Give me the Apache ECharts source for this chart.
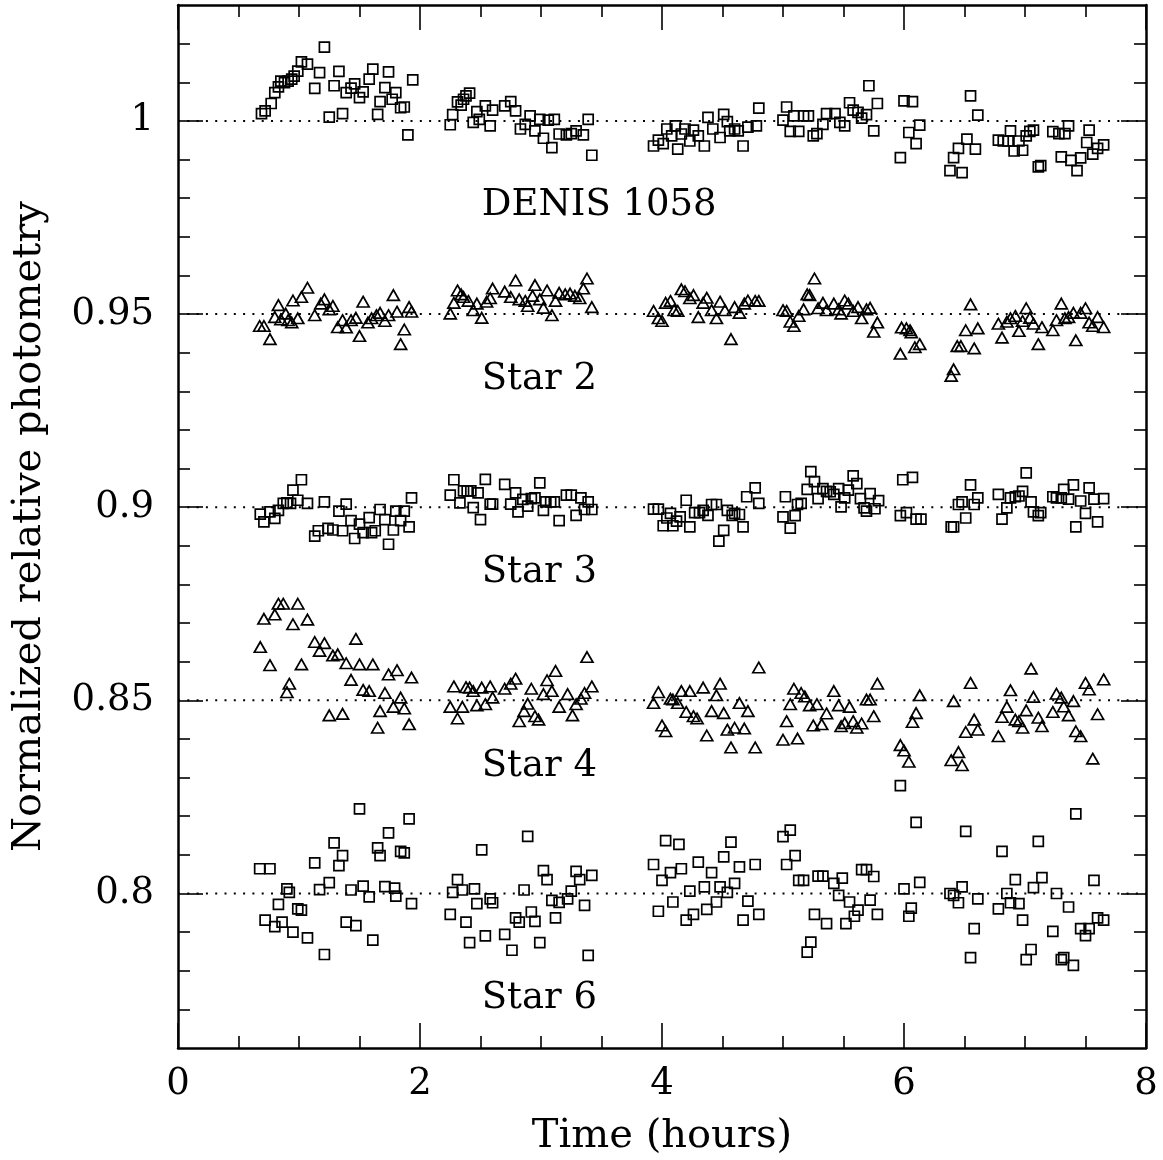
<!DOCTYPE html>
<html>
<head>
<meta charset="utf-8">
<script src="https://cdn.jsdelivr.net/npm/echarts@6/dist/echarts.min.js"></script>
<style>html,body{margin:0;padding:0;background:#fff;}#c{width:1163px;height:1160px;}</style>
</head>
<body>
<div id="c"></div>
<script>
// ---- data: [time (hours), normalized relative photometry] ----
const denis = [
[0.69,1.0019],[0.72,1.0026],[0.77,1.0045],[0.80,1.0073],[0.83,1.0088],[0.85,1.0103],[0.88,1.0099],[0.91,1.0103],[0.94,1.0108],[0.96,1.0116],[0.99,1.0129],[1.02,1.0153],[1.07,1.0147],[1.21,1.0191],[1.17,1.0125],[1.13,1.0084],[1.25,1.0010],[1.36,1.0019],[1.33,1.0128],[1.29,1.0091],[1.39,1.0073],[1.43,1.0085],[1.46,1.0096],[1.50,1.0060],[1.53,1.0075],[1.58,1.0108],[1.61,1.0134],[1.65,1.0017],[1.67,1.0050],[1.71,1.0086],[1.74,1.0127],[1.77,1.0056],[1.80,1.0073],[1.84,1.0034],[1.87,1.0036],[1.90,0.9964],[1.94,1.0106],
[2.25,0.9990],[2.27,1.0016],[2.31,1.0049],[2.34,1.0041],[2.36,1.0056],[2.38,1.0065],[2.41,1.0072],[2.44,0.9996],[2.47,1.0024],[2.49,1.0004],[2.54,1.0039],[2.58,0.9987],[2.60,1.0028],[2.70,1.0039],[2.75,1.0050],[2.79,1.0026],[2.83,0.9979],[2.87,0.9991],[2.91,1.0013],[2.95,0.9974],[2.99,1.0004],[3.02,0.9955],[3.06,1.0002],[3.09,0.9931],[3.11,1.0004],[3.15,0.9966],[3.21,0.9964],[3.25,0.9967],[3.29,0.9974],[3.35,0.9964],[3.39,1.0004],[3.42,0.9911],
[3.93,0.9935],[3.97,0.9950],[4.01,0.9941],[4.04,0.9979],[4.08,0.9961],[4.11,0.9987],[4.13,0.9927],[4.16,0.9966],[4.19,0.9979],[4.23,0.9948],[4.26,0.9976],[4.30,0.9961],[4.35,0.9935],[4.38,1.0009],[4.42,0.9979],[4.48,0.9957],[4.51,1.0017],[4.54,0.9998],[4.56,0.9974],[4.60,0.9979],[4.63,0.9974],[4.67,0.9935],[4.71,0.9984],[4.78,0.9987],[4.80,1.0033],
[5.00,1.0002],[5.03,1.0036],[5.06,0.9973],[5.09,1.0013],[5.13,0.9973],[5.17,1.0013],[5.21,1.0013],[5.25,0.9961],[5.28,0.9967],[5.33,0.9991],[5.36,1.0019],[5.43,1.0019],[5.47,0.9996],[5.51,0.9987],[5.55,1.0047],[5.58,1.0028],[5.62,1.0022],[5.65,1.0007],[5.69,1.0016],[5.71,1.0091],[5.75,0.9974],[5.78,1.0045],
[5.97,0.9905],[6.00,1.0052],[6.04,0.9970],[6.07,1.0050],[6.10,0.9941],[6.13,0.9989],
[6.38,0.9871],[6.41,0.9905],[6.45,0.9929],[6.48,0.9866],[6.52,0.9953],[6.55,1.0065],[6.59,0.9927],[6.61,1.0015],
[6.78,0.9950],[6.82,0.9948],[6.86,0.9948],[6.88,0.9974],[6.91,0.9922],[6.95,0.9948],[6.98,0.9924],[7.01,0.9961],[7.04,0.9973],[7.07,0.9976],[7.11,0.9881],[7.13,0.9884],[7.23,0.9972],[7.28,0.9967],[7.30,0.9907],[7.33,0.9967],[7.36,0.9987],[7.38,0.9898],[7.43,0.9871],[7.46,0.9904],[7.51,0.9944],[7.53,0.9976],[7.56,0.9914],[7.60,0.9929],[7.65,0.9938]
];
const star2 = [
[0.675,0.9469],[0.71,0.9469],[0.76,0.9435],[0.80,0.9492],[0.83,0.9523],[0.85,0.9486],[0.89,0.9501],[0.91,0.9484],[0.94,0.9478],[0.95,0.9535],[0.99,0.9489],[1.02,0.9544],[1.07,0.9568],[1.13,0.9497],[1.18,0.9527],[1.21,0.9538],[1.25,0.9512],[1.28,0.9521],[1.32,0.9466],[1.36,0.9484],[1.39,0.9465],[1.43,0.9484],[1.47,0.9490],[1.50,0.9443],[1.53,0.9532],[1.57,0.9478],[1.60,0.9489],[1.64,0.9497],[1.67,0.9503],[1.71,0.9482],[1.74,0.9497],[1.78,0.9549],[1.81,0.9506],[1.84,0.9422],[1.87,0.9460],[1.91,0.9518],[1.93,0.9506],
[2.25,0.9501],[2.28,0.9529],[2.31,0.9561],[2.34,0.9551],[2.36,0.9544],[2.40,0.9534],[2.44,0.9510],[2.47,0.9527],[2.51,0.9490],[2.55,0.9532],[2.58,0.9541],[2.60,0.9566],[2.70,0.9558],[2.75,0.9544],[2.79,0.9587],[2.82,0.9538],[2.87,0.9534],[2.89,0.9521],[2.93,0.9547],[2.95,0.9575],[2.99,0.9538],[3.02,0.9516],[3.05,0.9561],[3.09,0.9497],[3.12,0.9534],[3.15,0.9555],[3.20,0.9551],[3.24,0.9553],[3.28,0.9547],[3.32,0.9541],[3.35,0.9566],[3.38,0.9592],[3.42,0.9518],
[3.93,0.9508],[3.97,0.9489],[4.00,0.9482],[4.03,0.9529],[4.07,0.9534],[4.10,0.9510],[4.13,0.9508],[4.16,0.9564],[4.19,0.9559],[4.23,0.9541],[4.26,0.9549],[4.30,0.9492],[4.34,0.9529],[4.37,0.9542],[4.41,0.9510],[4.45,0.9489],[4.48,0.9532],[4.52,0.9510],[4.57,0.9435],[4.60,0.9518],[4.64,0.9503],[4.68,0.9527],[4.71,0.9535],[4.77,0.9534],[4.80,0.9534],
[5.00,0.9510],[5.03,0.9508],[5.06,0.9480],[5.09,0.9469],[5.13,0.9495],[5.17,0.9512],[5.20,0.9551],[5.22,0.9549],[5.26,0.9592],[5.29,0.9515],[5.33,0.9529],[5.36,0.9510],[5.42,0.9527],[5.46,0.9512],[5.48,0.9501],[5.51,0.9535],[5.54,0.9527],[5.58,0.9508],[5.62,0.9518],[5.65,0.9489],[5.69,0.9512],[5.72,0.9516],[5.78,0.9478],[5.75,0.9454],
[5.98,0.9465],[6.02,0.9463],[6.05,0.9458],[6.06,0.9452],[5.97,0.9397],[6.09,0.9414],[6.13,0.9422],
[6.39,0.9340],[6.41,0.9357],[6.44,0.9417],[6.47,0.9417],[6.51,0.9458],[6.55,0.9525],[6.58,0.9411],[6.61,0.9463],
[6.78,0.9475],[6.81,0.9439],[6.85,0.9480],[6.88,0.9489],[6.92,0.9495],[6.95,0.9456],[6.98,0.9482],[7.01,0.9515],[7.04,0.9490],[7.07,0.9475],[7.11,0.9422],[7.14,0.9466],[7.23,0.9458],[7.26,0.9484],[7.30,0.9527],[7.33,0.9489],[7.36,0.9492],[7.40,0.9503],[7.42,0.9432],[7.46,0.9503],[7.50,0.9515],[7.53,0.9478],[7.56,0.9469],[7.60,0.9492],[7.65,0.9466]
];
const star3 = [
[0.68,0.8982],[0.71,0.8962],[0.76,0.8988],[0.80,0.8971],[0.83,0.8992],[0.87,0.9010],[0.90,0.9011],[0.93,0.9010],[0.95,0.9044],[1.02,0.9071],[0.99,0.9018],[1.07,0.9010],[1.13,0.8925],[1.16,0.8939],[1.21,0.9014],[1.24,0.8945],[1.28,0.8941],[1.33,0.8990],[1.36,0.8939],[1.39,0.9008],[1.43,0.8965],[1.46,0.8919],[1.50,0.8956],[1.53,0.8934],[1.58,0.8973],[1.60,0.8934],[1.63,0.8939],[1.67,0.8994],[1.71,0.8968],[1.74,0.8904],[1.78,0.8941],[1.80,0.8990],[1.84,0.8965],[1.87,0.8990],[1.91,0.8949],[1.93,0.9024],
[2.25,0.9031],[2.28,0.9071],[2.33,0.9011],[2.36,0.9042],[2.39,0.9042],[2.42,0.9042],[2.44,0.8999],[2.48,0.9037],[2.50,0.8968],[2.54,0.9072],[2.58,0.9008],[2.60,0.9008],[2.70,0.9059],[2.75,0.9008],[2.79,0.9037],[2.81,0.8988],[2.85,0.9020],[2.89,0.9003],[2.92,0.9022],[2.95,0.9024],[2.99,0.9063],[3.02,0.8992],[3.04,0.9014],[3.08,0.9014],[3.11,0.9014],[3.15,0.8965],[3.21,0.9031],[3.25,0.9031],[3.29,0.8979],[3.33,0.9024],[3.36,0.8994],[3.39,0.9014],[3.42,0.8994],
[3.93,0.8995],[3.97,0.8995],[4.01,0.8952],[4.04,0.8972],[4.07,0.8984],[4.09,0.8952],[4.12,0.8964],[4.15,0.8975],[4.20,0.9018],[4.23,0.8949],[4.27,0.8986],[4.31,0.8986],[4.34,0.8992],[4.38,0.8979],[4.41,0.9007],[4.45,0.9007],[4.47,0.8912],[4.51,0.8940],[4.54,0.8992],[4.58,0.8979],[4.60,0.8984],[4.64,0.8981],[4.67,0.8949],[4.70,0.9027],[4.77,0.9050],[4.80,0.9010],
[5.00,0.8975],[5.02,0.9027],[5.06,0.8946],[5.10,0.8978],[5.12,0.9007],[5.15,0.9010],[5.20,0.9046],[5.23,0.9092],[5.26,0.9066],[5.29,0.9022],[5.33,0.9048],[5.36,0.9041],[5.39,0.9040],[5.42,0.9033],[5.46,0.9048],[5.48,0.9001],[5.51,0.9024],[5.54,0.9044],[5.58,0.9081],[5.61,0.9061],[5.64,0.9022],[5.67,0.8998],[5.69,0.8990],[5.72,0.9035],[5.76,0.8996],[5.79,0.9017],
[5.99,0.9071],[6.07,0.9077],[5.97,0.8978],[6.02,0.8986],[6.10,0.8969],[6.14,0.8969],
[6.39,0.8949],[6.41,0.8949],[6.45,0.9007],[6.48,0.9014],[6.51,0.8972],[6.55,0.9058],[6.58,0.9007],[6.61,0.9024],
[6.78,0.9033],[6.81,0.8969],[6.85,0.8998],[6.88,0.9024],[6.92,0.9027],[6.95,0.9029],[6.98,0.9041],[7.01,0.9089],[7.05,0.9014],[7.07,0.8988],[7.11,0.8978],[7.13,0.8986],[7.23,0.9027],[7.26,0.9024],[7.30,0.9024],[7.32,0.9046],[7.36,0.9021],[7.40,0.9058],[7.42,0.8949],[7.46,0.9016],[7.50,0.8984],[7.53,0.9050],[7.57,0.9021],[7.60,0.8962],[7.65,0.9022]
];
const star4 = [
[0.68,0.8638],[0.71,0.8711],[0.76,0.8591],[0.80,0.8722],[0.83,0.8750],[0.87,0.8750],[0.90,0.8521],[0.92,0.8543],[0.95,0.8697],[0.99,0.8750],[1.02,0.8593],[1.07,0.8709],[1.13,0.8651],[1.17,0.8628],[1.21,0.8648],[1.25,0.8461],[1.28,0.8616],[1.32,0.8619],[1.36,0.8465],[1.39,0.8596],[1.43,0.8553],[1.47,0.8659],[1.50,0.8593],[1.53,0.8527],[1.58,0.8524],[1.61,0.8593],[1.65,0.8429],[1.67,0.8472],[1.71,0.8519],[1.74,0.8567],[1.78,0.8483],[1.81,0.8578],[1.84,0.8507],[1.87,0.8479],[1.91,0.8438],[1.93,0.8559],
[2.25,0.8483],[2.28,0.8536],[2.31,0.8453],[2.35,0.8483],[2.38,0.8534],[2.41,0.8533],[2.44,0.8524],[2.47,0.8487],[2.51,0.8533],[2.54,0.8490],[2.58,0.8536],[2.60,0.8507],[2.70,0.8530],[2.75,0.8543],[2.79,0.8556],[2.82,0.8446],[2.86,0.8472],[2.89,0.8491],[2.92,0.8530],[2.95,0.8459],[2.98,0.8450],[3.02,0.8516],[3.05,0.8552],[3.09,0.8524],[3.12,0.8576],[3.15,0.8483],[3.22,0.8516],[3.26,0.8461],[3.29,0.8490],[3.33,0.8504],[3.36,0.8519],[3.38,0.8612],[3.42,0.8536],
[3.93,0.8493],[3.97,0.8521],[4.00,0.8435],[4.03,0.8420],[4.07,0.8504],[4.09,0.8502],[4.13,0.8493],[4.16,0.8524],[4.20,0.8470],[4.23,0.8524],[4.26,0.8459],[4.29,0.8453],[4.34,0.8533],[4.37,0.8409],[4.41,0.8472],[4.45,0.8513],[4.48,0.8543],[4.51,0.8467],[4.54,0.8424],[4.57,0.8378],[4.60,0.8429],[4.64,0.8493],[4.68,0.8427],[4.71,0.8472],[4.77,0.8378],[4.80,0.8585],
[5.00,0.8398],[5.03,0.8446],[5.06,0.8490],[5.09,0.8530],[5.12,0.8401],[5.15,0.8519],[5.18,0.8510],[5.22,0.8487],[5.25,0.8435],[5.28,0.8490],[5.32,0.8438],[5.36,0.8466],[5.42,0.8524],[5.46,0.8487],[5.48,0.8433],[5.51,0.8441],[5.55,0.8483],[5.58,0.8446],[5.61,0.8429],[5.65,0.8440],[5.69,0.8502],[5.72,0.8502],[5.75,0.8459],[5.78,0.8543],
[5.97,0.8384],[6.00,0.8370],[6.04,0.8341],[6.07,0.8444],[6.10,0.8467],[6.13,0.8513],
[6.39,0.8345],[6.41,0.8498],[6.45,0.8366],[6.48,0.8332],[6.51,0.8418],[6.55,0.8545],[6.58,0.8450],[6.61,0.8424],
[6.78,0.8407],[6.81,0.8457],[6.85,0.8483],[6.88,0.8526],[6.92,0.8450],[6.95,0.8446],[6.98,0.8429],[7.01,0.8474],[7.05,0.8582],[7.07,0.8509],[7.11,0.8455],[7.14,0.8433],[7.23,0.8470],[7.26,0.8517],[7.30,0.8507],[7.32,0.8484],[7.36,0.8461],[7.40,0.8498],[7.42,0.8420],[7.46,0.8407],[7.50,0.8545],[7.53,0.8528],[7.56,0.8349],[7.60,0.8464],[7.65,0.8554]
];
const star6 = [
[0.675,0.8064],[0.76,0.8064],[0.72,0.7931],[0.80,0.7914],[0.83,0.7972],[0.86,0.7926],[0.90,0.8012],[0.92,0.8003],[0.95,0.7900],[0.99,0.7960],[1.02,0.7957],[1.07,0.7885],[1.13,0.8079],[1.17,0.8010],[1.21,0.7842],[1.25,0.8028],[1.29,0.8131],[1.33,0.8072],[1.36,0.8098],[1.39,0.7926],[1.43,0.8009],[1.47,0.7917],[1.50,0.8219],[1.53,0.8019],[1.58,0.7991],[1.61,0.7879],[1.65,0.8118],[1.67,0.8098],[1.71,0.8018],[1.74,0.8157],[1.79,0.8014],[1.80,0.7993],[1.84,0.8109],[1.87,0.8105],[1.91,0.8193],[1.93,0.7974],
[2.25,0.7946],[2.27,0.8003],[2.31,0.8036],[2.35,0.8009],[2.38,0.7926],[2.41,0.7873],[2.45,0.8012],[2.47,0.7974],[2.51,0.8113],[2.54,0.7890],[2.58,0.7986],[2.60,0.7976],[2.70,0.7894],[2.76,0.7853],[2.79,0.7937],[2.82,0.7926],[2.86,0.8009],[2.89,0.8148],[2.92,0.7952],[2.95,0.7928],[2.99,0.7873],[3.02,0.8059],[3.05,0.8036],[3.09,0.7982],[3.12,0.7937],[3.15,0.7977],[3.22,0.7986],[3.25,0.8006],[3.29,0.8057],[3.32,0.8036],[3.36,0.7969],[3.39,0.7840],[3.42,0.8047],
[3.93,0.8075],[3.97,0.7954],[4.00,0.8034],[4.03,0.8137],[4.07,0.8054],[4.09,0.7978],[4.14,0.8127],[4.16,0.8064],[4.20,0.7931],[4.23,0.8006],[4.26,0.7946],[4.30,0.8081],[4.35,0.8017],[4.37,0.7959],[4.41,0.8054],[4.45,0.7978],[4.48,0.8017],[4.51,0.8095],[4.54,0.8003],[4.57,0.8133],[4.60,0.8026],[4.64,0.8069],[4.67,0.7931],[4.71,0.7980],[4.77,0.8075],[4.80,0.7946],
[5.00,0.8147],[5.03,0.8075],[5.06,0.8164],[5.10,0.8098],[5.13,0.8034],[5.17,0.8034],[5.20,0.7848],[5.23,0.7874],[5.26,0.7946],[5.29,0.8045],[5.33,0.8045],[5.36,0.7922],[5.42,0.8026],[5.46,0.7995],[5.49,0.8040],[5.52,0.7922],[5.55,0.7978],[5.59,0.7941],[5.62,0.7957],[5.65,0.8062],[5.69,0.8062],[5.72,0.7983],[5.75,0.8044],[5.78,0.7946],
[5.97,0.8279],[6.00,0.8012],[6.04,0.7941],[6.06,0.7962],[6.10,0.8184],[6.13,0.8029],
[6.38,0.8000],[6.41,0.7995],[6.45,0.7976],[6.48,0.8017],[6.51,0.8161],[6.55,0.7834],[6.58,0.7909],[6.61,0.7986],
[6.78,0.7960],[6.81,0.8109],[6.85,0.8000],[6.88,0.7976],[6.92,0.8036],[6.95,0.7974],[6.98,0.7931],[7.01,0.7829],[7.05,0.7855],[7.07,0.8015],[7.11,0.8135],[7.14,0.8041],[7.23,0.7902],[7.26,0.8000],[7.30,0.7829],[7.32,0.7834],[7.36,0.7965],[7.40,0.7814],[7.42,0.8206],[7.46,0.7909],[7.50,0.7891],[7.53,0.7909],[7.57,0.8034],[7.60,0.7937],[7.65,0.7931]
];
// reference levels (dotted lines) and text annotations
const levels = [1.0, 0.95, 0.90, 0.85, 0.80];
const labelNames = ['DENIS 1058', 'Star 2', 'Star 3', 'Star 4', 'Star 6'];
const labelX = [2.51, 2.51, 2.51, 2.51, 2.51];
const labelY = [0.978, 0.9332, 0.8832, 0.8329, 0.7728];
// axes
const xMin = 0, xMax = 8, xInterval = 2;
const yMin = 0.76, yMax = 1.03;
const yMajorValues = [0.80, 0.85, 0.90, 0.95, 1.00];
const yMajorLabels = ['0.8', '0.85', '0.9', '0.95', '1'];
const yMinorValues = [0.77,0.78,0.79,0.81,0.82,0.83,0.84,0.86,0.87,0.88,0.89,0.91,0.92,0.93,0.94,0.96,0.97,0.98,0.99,1.01,1.02];

const FONT = 'DejaVu Serif';
const FS = 37;
const NAME_FS = 40;

const chart = echarts.init(document.getElementById('c'), null, {renderer: 'canvas'});

function xAx(pos, showLabel) {
  return {
    type: 'value', position: pos, min: xMin, max: xMax, interval: xInterval,
    axisLine: {show: true, onZero: false, lineStyle: {color: '#000', width: 2.5}},
    axisTick: {show: true, inside: true, length: 25, lineStyle: {color: '#000', width: 1.6}},
    minorTick: {show: true, splitNumber: 4, length: 12, lineStyle: {color: '#000', width: 1.6}},
    splitLine: {show: false}, minorSplitLine: {show: false},
    axisLabel: {show: showLabel, color: '#000', fontFamily: FONT, fontSize: FS, margin: 18},
    name: showLabel ? 'Time (hours)' : '', nameLocation: 'middle', nameGap: 69,
    nameTextStyle: {color: '#000', fontFamily: FONT, fontSize: NAME_FS}
  };
}
function yAx(pos, major, showLabel) {
  const vals = major ? yMajorValues : yMinorValues;
  return {
    type: 'value', position: pos, min: yMin, max: yMax,
    axisLine: {show: major, onZero: false, lineStyle: {color: '#000', width: 2.5}},
    axisTick: {show: true, inside: true, length: major ? 25 : 12, customValues: vals, lineStyle: {color: '#000', width: 1.6}},
    splitLine: {show: false},
    axisLabel: {
      show: showLabel, customValues: yMajorValues, color: '#000', fontFamily: FONT, fontSize: FS, margin: 24,
      formatter: function (v) {
        for (let i = 0; i < yMajorValues.length; i++) if (Math.abs(v - yMajorValues[i]) < 1e-6) return yMajorLabels[i];
        return '';
      }
    },
    name: showLabel ? 'Normalized relative photometry' : '', nameLocation: 'middle', nameGap: 128, nameRotate: 90,
    nameTextStyle: {color: '#000', fontFamily: FONT, fontSize: NAME_FS}
  };
}

function scatter(data, symbol, size) {
  return {
    type: 'scatter', xAxisIndex: 0, yAxisIndex: 0, data: data, symbol: symbol, symbolSize: size,
    itemStyle: {color: 'rgba(0,0,0,0)', borderColor: '#000', borderWidth: 1.7, opacity: 1},
    emphasis: {disabled: true}, silent: true, z: 3
  };
}

const series = [];
levels.forEach(function (lv) {
  series.push({
    type: 'line', xAxisIndex: 0, yAxisIndex: 0, data: [[xMin, lv], [xMax, lv]],
    symbol: 'none', silent: true, lineStyle: {color: '#000', width: 2, type: [2, 7.3]}, z: 2
  });
});
series.push(scatter(denis, 'rect', 10));
series.push(scatter(star2, 'triangle', [12, 10.5]));
series.push(scatter(star3, 'rect', 10));
series.push(scatter(star4, 'triangle', [12, 10.5]));
series.push(scatter(star6, 'rect', 10));
series.push({
  type: 'scatter', xAxisIndex: 0, yAxisIndex: 0, symbolSize: 0, silent: true,
  itemStyle: {opacity: 1},
  data: labelNames.map(function (n, i) { return {name: n, value: [labelX[i], labelY[i]]}; }),
  label: {show: true, position: 'right', distance: 0, formatter: '{b}', color: '#000', opacity: 1, fontFamily: FONT, fontSize: FS}
});

chart.setOption({
  animation: false,
  backgroundColor: '#fff',
  grid: {left: 178, right: 17, top: 5, bottom: 112, containLabel: false, outerBoundsMode: 'none'},
  xAxis: [xAx('bottom', true), xAx('top', false)],
  yAxis: [yAx('left', true, true), yAx('left', false, false), yAx('right', true, false), yAx('right', false, false)],
  series: series
});
</script>
</body>
</html>
